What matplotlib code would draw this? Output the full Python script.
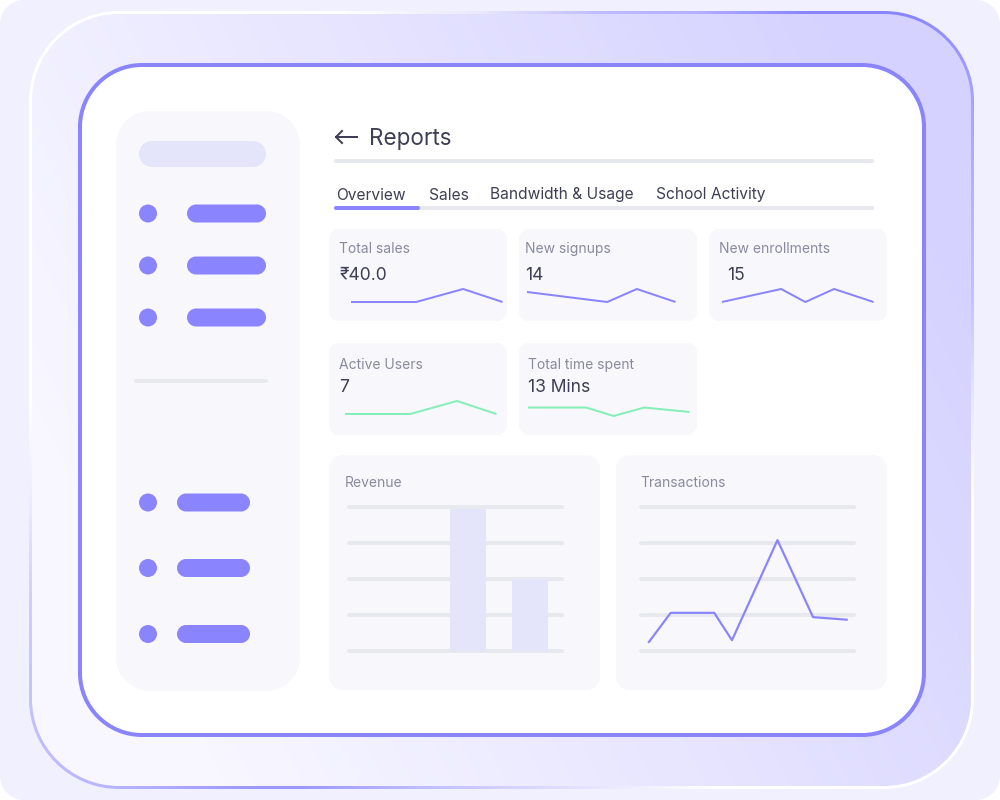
import numpy as np
import matplotlib
matplotlib.use("Agg")
import matplotlib.pyplot as plt
from matplotlib.colors import LinearSegmentedColormap
from matplotlib.patches import PathPatch, Circle
from matplotlib.path import Path

plt.rcParams["font.family"] = ["Inter", "DejaVu Sans"]

W, H = 1000, 800

PURPLE = "#8A85FF"
GREEN = "#86EFB7"
PANEL = "#F7F7FC"
LAVENDER = "#E4E4FB"
GRID = "#E8E8EF"
DARK = "#3E3F55"
MUTED = "#8A8A9E"

# tabs
tab_labels = ["Overview", "Sales", "Bandwidth & Usage", "School Activity"]
tab_x = [336.5, 428.5, 489.5, 656.5]

# small cards
card_titles = ["Total sales", "New signups", "New enrollments", "Active Users", "Total time spent"]
card_values = ["₹40.0", "14", "15", "7", "13 Mins"]

sales_x = [0, 43, 74, 100]
sales_y = [0, 0, 1, 0]
signups_x = [0, 54, 74, 100]
signups_y = [0.77, 0, 1, 0]
enroll_x = [0, 39, 55, 74, 100]
enroll_y = [0, 1, 0, 1, 0]
active_x = [0, 43, 74, 100]
active_y = [0, 0, 1, 0]
time_x = [0, 36, 53, 72, 100]
time_y = [0.65, 0.65, 0, 0.65, 0.31]

# big charts
grid_levels = [0, 1, 2, 3, 4]
revenue_pos = [0, 1]
revenue_values = [3.95, 2.0]
trans_x = [0, 1.1, 3.3, 4.2, 6.5, 8.3, 10]
trans_y = [0.25, 1.06, 1.06, 0.3, 3.08, 0.94, 0.87]

# frame border strength going round the frame, angle in degrees
edge_angle = [-180, -166, -153, -142, -130, -118, -113, -100, -78, -65, -14, 0,
              14.6, 30, 37.6, 49, 57, 67, 78, 92, 109, 180]
edge_amount = [0, 0.15, 0.4, 0.5, 0.6, 0.85, 0.85, 0.55, 0.2, 0, 0, 0.2,
               0.5, 0.65, 0.75, 1, 1, 0.65, 0.55, 0.2, 0, 0]


def px(v):
    # pixels to points
    return v * 0.72


def rbox(ax, x0, y0, x1, y1, r, color, z=2):
    # rounded box with proper circular corners
    k = r * (1 - 0.5523)
    verts = [
        (x0 + r, y0), (x1 - r, y0),
        (x1 - k, y0), (x1, y0 + k), (x1, y0 + r),
        (x1, y1 - r),
        (x1, y1 - k), (x1 - k, y1), (x1 - r, y1),
        (x0 + r, y1),
        (x0 + k, y1), (x0, y1 - k), (x0, y1 - r),
        (x0, y0 + r),
        (x0, y0 + k), (x0 + k, y0), (x0 + r, y0),
        (x0 + r, y0),
    ]
    codes = [Path.MOVETO, Path.LINETO,
             Path.CURVE4, Path.CURVE4, Path.CURVE4,
             Path.LINETO,
             Path.CURVE4, Path.CURVE4, Path.CURVE4,
             Path.LINETO,
             Path.CURVE4, Path.CURVE4, Path.CURVE4,
             Path.LINETO,
             Path.CURVE4, Path.CURVE4, Path.CURVE4,
             Path.CLOSEPOLY]
    p = PathPatch(Path(verts, codes), fc=color, ec="none", zorder=z)
    ax.add_patch(p)
    return p


def inset(x0, y0, x1, y1):
    # axes placed by pixel box, y counted from the top
    a = fig.add_axes([x0 / W, 1 - y1 / H, (x1 - x0) / W, (y1 - y0) / H])
    a.axis("off")
    return a


def spark(box, xs, ys, color):
    a = inset(*box)
    a.set_xlim(0, 100)
    a.set_ylim(0, 1)
    a.plot(xs, ys, color=color, lw=px(2), clip_on=False, solid_joinstyle="round",
           solid_capstyle="butt")


def gridlines(a, x0, x1):
    for g in grid_levels:
        a.plot([x0, x1], [g, g], color=GRID, lw=px(4), solid_capstyle="round",
               clip_on=False, zorder=1)


fig = plt.figure(figsize=(10, 8), dpi=100, facecolor="white")
ax = fig.add_axes([0, 0, 1, 1])
ax.axis("off")

rbox(ax, 0, 0, 1000, 800, 24, "#F1F0FE", z=1)

# frame gradients, clipped to rounded boxes
xx, yy = np.meshgrid(np.arange(W) + 0.5, np.arange(H) + 0.5)

angle = np.degrees(np.arctan2((400 - yy) / 389, (xx - 500) / 472))
edge = np.interp(angle, edge_angle, edge_amount)
edge_cmap = LinearSegmentedColormap.from_list("edge", ["#FFFFFF", PURPLE])
edge_clip = rbox(ax, 29, 11, 974, 789, 90, "none", z=3)
im = ax.imshow(edge, cmap=edge_cmap, vmin=0, vmax=1, extent=(0, W, H, 0), aspect="auto", zorder=3)
im.set_clip_path(edge_clip)

fill = np.clip(0.001 * xx - 0.0005 * yy + 0.17, 0, 1)
fill_cmap = LinearSegmentedColormap.from_list("fill", ["#F8F7FF", "#D5D2FF"])
fill_clip = rbox(ax, 32, 14, 971, 786, 87, "none", z=4)
im = ax.imshow(fill, cmap=fill_cmap, vmin=0, vmax=1, extent=(0, W, H, 0), aspect="auto", zorder=4)
im.set_clip_path(fill_clip)

# main white card
rbox(ax, 78, 63, 926, 737, 64, PURPLE, z=5)
rbox(ax, 82, 67, 922, 733, 60, "white", z=6)

# sidebar
rbox(ax, 116, 111, 300, 691, 34, PANEL, z=7)
rbox(ax, 139, 141, 266, 167, 13, LAVENDER, z=8)
for y in [213.5, 265.5, 317.5]:
    ax.add_patch(Circle((148, y), 9, fc=PURPLE, ec="none", zorder=8))
    rbox(ax, 187, y - 9, 266, y + 9, 9, PURPLE, z=8)
rbox(ax, 134, 379, 268, 383, 2, GRID, z=8)
for y in [502.5, 568, 634]:
    ax.add_patch(Circle((148, y), 9, fc=PURPLE, ec="none", zorder=8))
    rbox(ax, 177, y - 9, 250, y + 9, 9, PURPLE, z=8)

# header
ax.plot([357, 336], [137, 137], color=DARK, lw=px(2), zorder=8)
ax.plot([342, 336, 342], [131, 137, 143], color=DARK, lw=px(2), zorder=8)
ax.text(369, 139, "Reports", fontsize=16.2, color=DARK, va="center", zorder=8)
rbox(ax, 334, 159, 874, 163, 2, GRID, z=8)

# tabs
for label, x in zip(tab_labels, tab_x):
    ax.text(x, 195, label, fontsize=11.2, color=DARK, va="center", zorder=8)
rbox(ax, 334, 206, 874, 210, 2, GRID, z=8)
rbox(ax, 334, 206, 420, 210, 2, PURPLE, z=9)

# small cards
card_boxes = [(329, 229, 507, 321), (519, 229, 697, 321), (709, 229, 887, 321),
              (329, 343, 507, 435), (519, 343, 697, 435)]
title_pos = [(339, 249), (525, 249), (719, 249), (339, 365), (528, 365)]
value_pos = [(340, 276), (525, 276), (727, 276), (339, 388), (528, 388)]
for box, title, tp, value, vp in zip(card_boxes, card_titles, title_pos, card_values, value_pos):
    rbox(ax, *box, 10, PANEL, z=7)
    ax.text(tp[0], tp[1], title, fontsize=10, color=MUTED, va="center", zorder=8)
    ax.text(vp[0], vp[1], value, fontsize=12.6, color=DARK, va="center", zorder=8)

# big cards
rbox(ax, 329, 455, 600, 690, 14, PANEL, z=7)
rbox(ax, 616, 455, 887, 690, 14, PANEL, z=7)
ax.text(345, 483, "Revenue", fontsize=10, color=MUTED, va="center", zorder=8)
ax.text(640, 483, "Transactions", fontsize=10, color=MUTED, va="center", zorder=8)

ax.set_xlim(0, W)
ax.set_ylim(H, 0)

# sparklines
spark((351, 289, 502.5, 302), sales_x, sales_y, PURPLE)
spark((527, 289, 675.5, 302), signups_x, signups_y, PURPLE)
spark((722, 289, 873.5, 302), enroll_x, enroll_y, PURPLE)
spark((345, 401, 496.5, 414), active_x, active_y, GREEN)
spark((528, 403, 689.5, 416), time_x, time_y, GREEN)

# revenue
rev = inset(349, 507, 562, 651)
rev.set_xlim(-1.92, 1.52)
rev.set_ylim(0, 4)
gridlines(rev, -1.92, 1.52)
rev.bar(revenue_pos, revenue_values, width=0.58, color=LAVENDER, zorder=2, clip_on=False)

# transactions
tr = inset(641, 507, 854, 651)
tr.set_xlim(-0.4, 10.37)
tr.set_ylim(0, 4)
gridlines(tr, -0.4, 10.37)
tr.plot(trans_x, trans_y, color=PURPLE, lw=px(2.2), zorder=2, clip_on=False, solid_joinstyle="round")

fig.savefig("out.png", dpi=100)
